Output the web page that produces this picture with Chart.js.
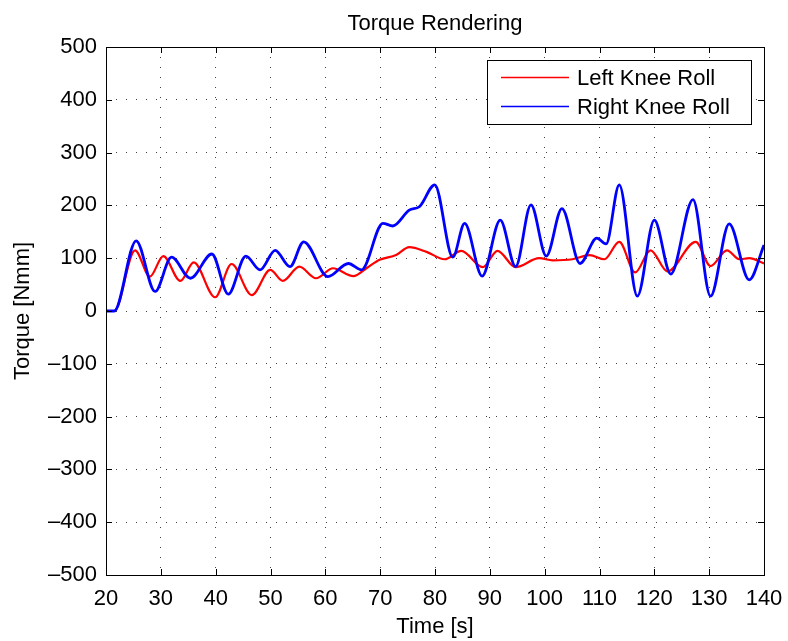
<!DOCTYPE html>
<html>
<head>
<meta charset="utf-8">
<script src="https://cdn.jsdelivr.net/npm/chart.js@4/dist/chart.umd.min.js"></script>
<style>
  html, body { margin: 0; padding: 0; background: #ffffff; }
  #wrap { width: 788px; height: 641px; }
</style>
</head>
<body>
<div id="wrap"><canvas id="c" width="788" height="641"></canvas></div>
<script>
// ---- Data ----
const chartTitle = "Torque Rendering";
const xAxisTitle = "Time [s]";
const yAxisTitle = "Torque [Nmm]";
const seriesNames = ["Left Knee Roll", "Right Knee Roll"];

const xTicks = [20, 30, 40, 50, 60, 70, 80, 90, 100, 110, 120, 130, 140];
const yTicks = [-500, -400, -300, -200, -100, 0, 100, 200, 300, 400, 500];

const leftKneeTime = [20, 21.5, 25.3, 28.0, 30.45, 33.55, 36.0, 39.9, 42.9, 46.6, 49.95, 52.25, 55.25, 58.3, 61.4, 65.1, 67.5, 69.9, 72.9, 75.3, 78.45, 81.75, 84.8, 88.7, 91.4, 94.7, 99.0, 101.45, 105.05, 108.2, 110.9, 113.6, 116.5, 119.3, 122.4, 127.55, 130.25, 133.25, 135.5, 137.3, 140];
const leftKneeTorque = [0, 0, 115, 65, 104, 57, 92, 26, 89, 30, 78, 57, 84, 62, 81, 66, 81, 97, 106, 121, 112, 98, 114, 83, 114, 83, 100, 96, 98, 106, 98, 131, 73, 115, 75, 131, 85, 115, 98, 100, 90];

const rightKneeTime = [20, 21.5, 25.5, 28.95, 31.95, 35.4, 39.3, 42.3, 45.5, 48.1, 50.85, 53.55, 56.05, 60.47, 64.2, 66.6, 70.5, 72.3, 75.3, 77.2, 79.95, 83.25, 85.4, 88.6, 91.9, 94.7, 97.5, 100.3, 103.15, 106.45, 109.5, 111.2, 113.6, 116.9, 120.0, 123.0, 127.05, 130.25, 133.65, 137.3, 140];
const rightKneeTorque = [0, 0, 133, 37, 102, 62, 108, 32, 104, 78, 115, 84, 131, 65, 90, 78, 166, 161, 191, 198, 239, 102, 166, 66, 172, 84, 201, 104, 194, 90, 138, 127, 239, 28, 172, 70, 211, 28, 165, 59, 125];

// ---- Build chart ----
const FONT = "'Liberation Sans', Arial, Helvetica, sans-serif";
function toPoints(xs, ys) { return xs.map((x, i) => ({ x: x, y: ys[i] })); }
function fmtTick(v) { return v < 0 ? '\u2013' + Math.abs(v) : String(v); }

const frame = {
  id: 'matlabFrame',
  afterDraw(chart) {
    const ctx = chart.ctx;
    const a = chart.chartArea;
    const xs = chart.scales.x, ys = chart.scales.y;
    ctx.save();
    // box
    ctx.strokeStyle = '#000';
    ctx.lineWidth = 1;
    ctx.strokeRect(Math.round(a.left) + 0.5, Math.round(a.top) + 0.5, Math.round(a.right - a.left), Math.round(a.bottom - a.top));
    // inner ticks on all sides
    const tl = 6;
    ctx.beginPath();
    xTicks.forEach(t => {
      const px = Math.round(xs.getPixelForValue(t)) + 0.5;
      ctx.moveTo(px, a.bottom); ctx.lineTo(px, a.bottom - tl);
      ctx.moveTo(px, a.top); ctx.lineTo(px, a.top + tl);
    });
    yTicks.forEach(t => {
      const py = Math.round(ys.getPixelForValue(t)) + 0.5;
      ctx.moveTo(a.left, py); ctx.lineTo(a.left + tl, py);
      ctx.moveTo(a.right, py); ctx.lineTo(a.right - tl, py);
    });
    ctx.stroke();

    ctx.fillStyle = '#000';
    ctx.font = '22px ' + FONT;
    // title
    ctx.textAlign = 'center';
    ctx.textBaseline = 'alphabetic';
    const cx = (a.left + a.right) / 2;
    ctx.fillText(chartTitle, cx, 30);
    // x axis title
    ctx.fillText(xAxisTitle, cx, 633);
    // y axis title
    ctx.save();
    ctx.translate(29, (a.top + a.bottom) / 2);
    ctx.rotate(-Math.PI / 2);
    ctx.fillText(yAxisTitle, 0, 0);
    ctx.restore();

    // legend box
    const lx = 487, ly = 60, lw = 264, lh = 64;
    ctx.fillStyle = '#fff';
    ctx.fillRect(lx, ly, lw, lh);
    ctx.strokeStyle = '#000';
    ctx.lineWidth = 1;
    ctx.strokeRect(lx + 0.5, ly + 0.5, lw, lh);
    const rows = [77.5, 106.5];
    chart.data.datasets.forEach((ds, i) => {
      ctx.strokeStyle = ds.borderColor;
      ctx.lineWidth = 1.5;
      ctx.beginPath();
      ctx.moveTo(501, rows[i]);
      ctx.lineTo(569, rows[i]);
      ctx.stroke();
      ctx.fillStyle = '#000';
      ctx.textAlign = 'left';
      ctx.textBaseline = 'middle';
      ctx.fillText(ds.label, 577, rows[i] + 1);
    });
    ctx.restore();
  }
};

new Chart(document.getElementById('c'), {
  type: 'line',
  data: {
    datasets: [
      {
        label: seriesNames[0],
        data: toPoints(leftKneeTime, leftKneeTorque),
        borderColor: '#ff0000',
        borderWidth: 2.2,
        pointRadius: 0,
        cubicInterpolationMode: 'monotone',
        fill: false,
        order: 1
      },
      {
        label: seriesNames[1],
        data: toPoints(rightKneeTime, rightKneeTorque),
        borderColor: '#0000ff',
        borderWidth: 2.8,
        pointRadius: 0,
        cubicInterpolationMode: 'monotone',
        fill: false,
        order: 0
      }
    ]
  },
  options: {
    responsive: false,
    animation: false,
    devicePixelRatio: 1,
    layout: { padding: { left: 0, right: 24, top: 47, bottom: 0 } },
    plugins: { legend: { display: false }, title: { display: false }, tooltip: { enabled: false } },
    scales: {
      x: {
        type: 'linear',
        min: 20, max: 140,
        afterBuildTicks(scale) { scale.ticks = xTicks.map(v => ({ value: v })); },
        afterFit(scale) { scale.height = 66; scale.paddingLeft = 0; scale.paddingRight = 0; },
        ticks: { color: '#000', font: { family: FONT, size: 22 }, padding: 11, maxRotation: 0, autoSkip: false },
        grid: { color: 'rgba(0,0,0,0.75)', lineWidth: 1, drawTicks: false },
        border: { display: false, dash: [1, 9] }
      },
      y: {
        type: 'linear',
        min: -500, max: 500,
        afterBuildTicks(scale) { scale.ticks = yTicks.map(v => ({ value: v })); },
        afterFit(scale) { scale.width = 106; scale.paddingTop = 0; scale.paddingBottom = 0; },
        ticks: { color: '#000', font: { family: FONT, size: 22 }, padding: 9, autoSkip: false, callback: v => fmtTick(v) },
        grid: { color: 'rgba(0,0,0,0.75)', lineWidth: 1, drawTicks: false },
        border: { display: false, dash: [1, 9] }
      }
    }
  },
  plugins: [frame]
});
</script>
</body>
</html>
